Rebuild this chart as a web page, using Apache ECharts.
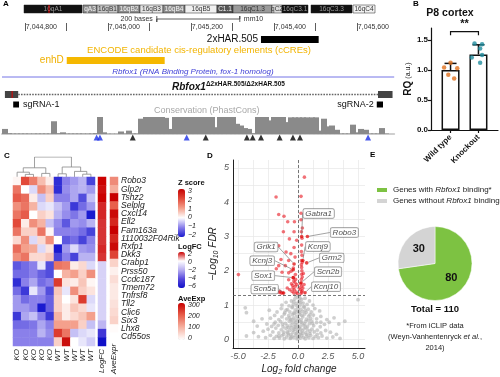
<!DOCTYPE html>
<html>
<head>
<meta charset="utf-8">
<script src="https://cdn.jsdelivr.net/npm/echarts@6/dist/echarts.min.js"></script>
<style>
html,body{margin:0;padding:0;background:#fff}
#main{width:500px;height:377px}
</style>
</head>
<body>
<div id="main"></div>
<script>
var FONT = '"Liberation Sans", Arial, sans-serif';

// ---- A: genome browser ----
var ideoBands = [
  ['16qA1', 0, 58], ['qA3', 59, 73], ['16qB1', 73, 94], ['16qB2', 94, 116],
  ['16qB3', 116, 139], ['16qB4', 139, 161], ['16qB5', 161, 193], ['C1.1', 193, 209],
  ['16qC1.3', 209, 248], ['qC2', 248, 258], ['16qC3.1', 258, 284], ['16qC3.3', 287, 328],
  ['16qC4', 329, 351]
];
var ideoStain = ['#111', '#8c8c8c', '#c6c6c6', '#8c8c8c', '#e4e4e4', '#8c8c8c', '#f0f0f0', '#555',
  '#9a9a9a', '#dcdcdc', '#111', '#111', '#f2f2f2'];
var ideoMarker = 25;
var harRegion = [7045369, 7045508];
var enhRegion = [7044901, 7045137];
var exonLeft = [7044752, 7044784];
var exonRight = [7045651, 7045686];
var cutSite = 7044769;
var sgRNA1 = [7044772, 7044786];
var sgRNA2 = [7045648, 7045663];
var scaleBar = [7045118, 7045318];
var coordLabels = [7044800, 7045000, 7045200, 7045400, 7045600];
var coordTicks = [7044800, 7044900, 7045000, 7045100, 7045200, 7045300, 7045400, 7045500, 7045600];
var consStart = 7044745;
var consStep = 10;
var consValues = [
  0.3, 0.05, 0.03, 0.03, 0.03, 0.03, 0.03, 0.03, 0.03, 0.03, 0.03, 0.03, 0.75, 0.05, 0.1, 0.03,
  0.03, 0.03, 0.03, 0.03, 0.03, 0.03, 0.05, 1.0, 0.1, 0.02, 0.02, 0.02, 0.15, 0.03, 0.2, 0.03,
  0.03, 0.9, 1.0, 1.0, 1.0, 1.0, 1.0, 0.95, 0.3, 1.0, 1.0, 1.0, 1.0, 1.0, 1.0, 1.0,
  1.0, 1.0, 1.0, 0.4, 1.0, 1.0, 1.0, 1.0, 0.6, 0.5, 0.35, 0.3, 0.05, 1.0, 1.0, 1.0,
  0.8, 1.0, 1.0, 1.0, 0.7, 0.98, 0.98, 0.98, 0.98, 0.98, 0.98, 0.98, 0.2, 0.9, 0.45, 0.5,
  0.25, 0.03, 0.03, 0.03, 0.55, 0.1, 0.3, 0.25, 0.03, 0.03, 0.03, 0.35, 0.03
];
var triBlue = [7044973, 7044981, 7045190, 7045627];
var triBlack = [7045060, 7045236, 7045335, 7045349, 7045369, 7045414, 7045446, 7045463];

// ---- B: qPCR ----
var bGroups = ['Wild type', 'Knockout'];
var bMeans = [1.0, 1.26];
var bSD = [0.11, 0.16];
var wtPoints = [1.12, 1.03, 1.04, 0.92, 0.86];
var koPoints = [1.44, 1.43, 1.36, 1.25, 1.21, 1.12];
var wtJitter = [0, 0.24, -0.23, -0.08, 0.13];
var koJitter = [-0.14, 0.13, 0.06, 0.13, -0.24, 0.06];

// ---- C: heatmap ----
var zGenes = ['Robo3', 'Glp2r', 'Tshz2', 'Selplg', 'Cxcl14', 'Ell2', 'Fam163a', '1110032F04Rik', 'Rxfp1', 'Dkk3',
  'Crabp1', 'Prss50', 'Ccdc187', 'Tmem72', 'Tnfrsf8', 'Tll2', 'Clic6', 'Six3', 'Lhx8', 'Cd55os'];
var zSamples = ['KO1', 'KO2', 'KO3', 'KO4', 'KO5', 'WT1', 'WT2', 'WT3', 'WT4', 'WT5'];
var zScores = [
  [0.1, 2.0, 1.4, 0.7, 0.2, -1.8, -1.0, -0.8, -0.6, -1.6],
  [1.5, 0.0, -0.3, 1.2, 0.7, -1.8, -0.9, -0.7, -0.6, -0.8],
  [1.8, 1.6, 0.2, -0.5, 0.5, -1.0, -1.0, -0.7, -1.5, -0.5],
  [1.2, 1.5, 0.8, -0.3, -0.2, -0.5, -0.8, -1.7, -1.2, -0.8],
  [1.5, 1.8, 0.0, 0.5, 0.3, -0.6, -0.9, -1.1, -0.8, -2.2],
  [2.0, 0.2, 1.2, 0.8, -0.5, -0.9, -1.4, -0.8, -0.9, -0.6],
  [1.5, 0.5, 0.5, 1.5, 0.1, -1.0, -1.0, -1.0, -1.2, -1.6],
  [0.4, 1.2, -0.3, 0.4, 1.2, 0.0, -1.4, -1.2, -1.6, -1.0],
  [1.6, 1.0, 0.9, -0.3, 0.3, -2.0, -0.8, -0.3, -0.8, -0.9],
  [1.2, 1.5, 0.4, 0.4, 0.6, -1.6, -1.0, -1.6, -0.6, -0.6],
  [-1.4, -1.2, -1.0, -0.2, -1.5, 1.5, 1.4, 0.2, 0.4, -0.3],
  [-1.2, -1.2, -1.0, -1.3, -1.5, 0.0, 0.8, 1.0, 0.5, 1.2],
  [-1.8, -1.0, -0.7, -1.2, -1.0, 2.2, 0.3, 0.2, 0.6, 0.1],
  [-1.2, -1.7, -0.2, -0.8, -1.5, 0.6, -0.2, 1.2, 0.5, 0.3],
  [-0.8, -1.2, -1.0, -1.0, -1.3, 0.5, 0.0, 0.3, 2.2, -0.3],
  [-0.8, -0.8, -1.0, -2.2, -1.3, 0.5, 0.2, 0.6, 0.4, -0.2],
  [-1.7, -0.7, -0.5, -1.0, -1.7, 0.8, 0.2, 0.4, 0.6, 1.0],
  [-1.2, -1.2, -1.1, -0.7, -1.0, 1.0, 1.0, 1.0, 0.5, -0.5],
  [-1.0, -1.0, -1.0, -0.6, -0.9, 2.2, 1.5, -0.5, -0.3, -0.2],
  [-1.0, -1.0, -1.0, -1.0, -1.0, 0.5, 2.8, 0.0, -0.2, -0.4]
];
var logFC = [2.2, 1.9, 2.0, 1.7, 1.7, 1.6, 1.6, 1.6, 1.7, 1.6, -1.1, -1.1, -1.1, -1.1, -1.1, -1.1, -1.1, -1.8, -4.6, -6.0];
var aveExpr = [150, 110, 300, 200, 290, 260, 300, 260, 290, 230, 60, 20, 45, 30, 30, 40, 50, 60, 5, 0];
var sampleTree = {h: 10, c: [
  {h: 4.6, c: [{h: 2.4, c: [0, {h: 1.3, c: [1, 2]}]}, {h: 1.8, c: [3, 4]}]},
  {h: 5.0, c: [{h: 1.6, c: [5, 6]}, {h: 2.8, c: [7, {h: 1.4, c: [8, 9]}]}]}
]};
var zTicks = ['3', '2', '1', '0', '\u22121', '\u22122'];
var fcTicks = ['2', '0', '\u22122', '\u22124', '\u22126'];
var aeTicks = ['300', '200', '100', '0'];

// ---- D: volcano ----
var redPts = [
  [0.53, 4.73], [-1.83, 4.15], [0.25, 4.17], [-1.61, 3.64], [-1.17, 3.59], [0.25, 3.68], [-0.86, 3.43],
  [-0.3, 3.43], [0.25, 3.49], [0.36, 3.25], [-1.22, 3.14], [-0.33, 3.14], [0.28, 3.14], [0.33, 2.95],
  [-0.72, 2.93], [-0.11, 2.89], [-1.61, 2.73], [-0.33, 2.68], [0.28, 2.56], [0.33, 2.45], [0.3, 2.75],
  [-1.42, 2.33], [-0.78, 2.3], [0.28, 2.3], [0.36, 2.25], [0.28, 2.18], [-1.61, 2.15], [-1.06, 2.15],
  [-1.81, 2.06], [-0.39, 2.08], [-0.58, 1.99], [-1.33, 1.96], [-0.78, 1.94], [-0.22, 1.89], [0.44, 1.92],
  [-0.4, 1.8], [-0.2, 1.75], [-0.35, 1.7], [-0.78, 1.74], [-0.55, 1.62], [-0.45, 1.57], [-0.22, 1.55],
  [-0.1, 1.6], [0.5, 1.6], [-1.5, 1.4], [-1.4, 1.35], [-1.55, 1.37], [-1.3, 1.36], [-0.3, 1.45],
  [-0.15, 1.38], [-0.35, 1.35], [0.2, 1.45], [0.3, 1.38], [0.35, 1.42], [0.25, 1.34], [0.4, 1.5],
  [-0.05, 1.34], [-0.5, 1.4], [0.3, 1.9], [0.32, 2.0], [0.3, 2.1], [-0.25, 2.4], [-0.9, 1.5],
  [-0.7, 1.45], [0.1, 1.5], [-4.97, 1.89], [-0.6, 2.5], [-1.0, 2.55], [0.3, 1.55], [0.28, 1.75],
  [0.35, 1.82], [-0.25, 1.65], [-0.42, 1.5], [0.22, 1.62]
];
var grayPts = [
  [-4.3, 0.1], [-3.3, 0.08], [-2.7, 0.05], [-2.3, 0.12], [-2.0, 0.03], [-1.8, 0.09], [-1.55, 0.04], [-1.35, 0.11],
  [-1.15, 0.02], [-0.95, 0.07], [-0.8, 0.13], [-0.65, 0.03], [-0.5, 0.09], [-0.35, 0.05], [-0.2, 0.12], [-0.08, 0.02],
  [0.05, 0.08], [0.18, 0.04], [0.3, 0.11], [0.45, 0.06], [0.6, 0.02], [0.75, 0.1], [0.9, 0.05], [1.05, 0.12],
  [1.25, 0.03], [1.45, 0.08], [1.7, 0.05], [2.0, 0.1], [2.4, 0.04], [2.9, 0.07], [3.5, 0.03],
  [-3.7, 0.2], [-2.9, 0.24], [-2.5, 0.3], [-2.1, 0.22], [-1.85, 0.33], [-1.6, 0.19], [-1.4, 0.28], [-1.2, 0.21],
  [-1.0, 0.32], [-0.85, 0.18], [-0.7, 0.26], [-0.55, 0.34], [-0.42, 0.2], [-0.28, 0.29], [-0.15, 0.17], [-0.02, 0.27],
  [0.1, 0.33], [0.22, 0.19], [0.35, 0.25], [0.5, 0.31], [0.65, 0.2], [0.8, 0.28], [0.98, 0.17], [1.15, 0.3],
  [1.35, 0.22], [1.6, 0.27], [1.9, 0.19], [2.3, 0.26], [2.7, 0.21], [3.2, 0.15],
  [-3.4, 0.39], [-2.6, 0.45], [-2.2, 0.38], [-1.9, 0.5], [-1.65, 0.41], [-1.45, 0.52], [-1.25, 0.37], [-1.05, 0.47],
  [-0.9, 0.4], [-0.72, 0.53], [-0.58, 0.42], [-0.45, 0.49], [-0.3, 0.37], [-0.18, 0.5], [-0.05, 0.43], [0.08, 0.54],
  [0.2, 0.39], [0.33, 0.48], [0.47, 0.41], [0.62, 0.52], [0.78, 0.38], [0.95, 0.46], [1.12, 0.53], [1.3, 0.4],
  [1.55, 0.49], [1.85, 0.37], [2.2, 0.44], [2.6, 0.5], [3.4, 0.45], [3.9, 0.53],
  [-3.7, 0.53], [-3.0, 0.6], [-2.3, 0.62], [-1.95, 0.7], [-1.6, 0.58], [-1.35, 0.66], [-1.15, 0.74], [-0.95, 0.6],
  [-0.78, 0.69], [-0.62, 0.57], [-0.48, 0.72], [-0.35, 0.63], [-0.22, 0.56], [-0.1, 0.68], [0.02, 0.61], [0.14, 0.73],
  [0.26, 0.58], [0.4, 0.66], [0.55, 0.74], [0.7, 0.59], [0.88, 0.68], [1.05, 0.62], [1.28, 0.71], [1.55, 0.6],
  [1.9, 0.67], [2.4, 0.58], [3.0, 0.63],
  [-4.4, 0.92], [-4.3, 0.78], [-2.4, 0.85], [-1.75, 0.8], [-1.4, 0.9], [-1.1, 0.78], [-0.88, 0.87], [-0.68, 0.8],
  [-0.5, 0.93], [-0.36, 0.77], [-0.24, 0.86], [-0.12, 0.8], [0.0, 0.91], [0.12, 0.78], [0.24, 0.88], [0.38, 0.81],
  [0.52, 0.94], [0.68, 0.79], [0.85, 0.88], [1.1, 0.8], [1.4, 0.9], [1.8, 0.83],
  [-1.35, 1.0], [-1.0, 1.08], [-0.75, 0.98], [-0.55, 1.12], [-0.4, 1.02], [-0.27, 1.18], [-0.14, 1.05], [-0.03, 1.22],
  [0.08, 1.1], [0.18, 1.0], [0.3, 1.17], [0.42, 1.06], [0.58, 1.2], [0.75, 1.02], [0.95, 1.12], [1.25, 1.0],
  [-0.2, 1.28], [0.1, 1.27], [5.0, 1.16],
  [-1.2, 0.15], [-0.9, 0.22], [-0.6, 0.14], [-0.4, 0.27], [-0.1, 0.2], [0.15, 0.14], [0.4, 0.18], [0.7, 0.14],
  [1.0, 0.24], [-1.3, 0.45], [-0.8, 0.35], [-0.5, 0.58], [-0.25, 0.44], [0.0, 0.36], [0.25, 0.5], [0.55, 0.45],
  [0.85, 0.56], [1.2, 0.47], [-1.0, 0.85], [-0.7, 0.63], [-0.3, 0.75], [0.05, 0.82], [0.32, 0.7], [0.6, 0.85],
  [1.0, 0.72], [-0.45, 0.95], [-0.1, 0.98], [0.22, 1.08], [0.48, 0.96], [-0.6, 0.05], [-0.2, 0.35], [0.2, 0.3],
  [0.65, 0.35], [-1.6, 0.1], [1.6, 0.15], [-2.0, 0.45], [1.9, 0.5], [-0.35, 1.1], [0.15, 1.2], [0.0, 0.05]
];
var volcanoGenes = ['Gabra1', 'Robo3', 'Kcnj9', 'Grm2', 'Scn2b', 'Kcnj10', 'Grik1', 'Kcnj3', 'Sox1', 'Scn5a'];
var volcanoGenePts = [[0.30, 3.00], [0.78, 3.00], [0.40, 2.30], [0.72, 2.23], [0.25, 1.65], [0.58, 1.36],
  [-0.33, 2.20], [-0.40, 2.03], [-0.40, 1.80], [-1.20, 1.35]];
var fdrCut = 1.3;

// ---- E: pie ----
var pieNames = ['Genes with Rbfox1 binding*', 'Genes without Rbfox1 binding'];
var pieValues = [80, 30];

// label shifts for volcano labels (px)
var volcanoShift = [[17, -23], [37, -4], [15, -14], [25, -5], [27, -11], [21, -6], [-28, -17], [-31, -9], [-30, -2], [-19, -4]];

var chart = echarts.init(document.getElementById('main'));

function txt(x, y, text, font, fill, align, extra) {
  var st = {text: text, font: font || ('8px ' + FONT), fill: fill || '#222',
    align: align || 'left', textAlign: align || 'left', verticalAlign: 'middle', textVerticalAlign: 'middle'};
  if (extra) for (var k in extra) st[k] = extra[k];
  return {type: 'text', x: x, y: y, silent: true, style: st};
}

// track layout (pixel rows in the track grid)
var trackRows = {scale: 19, har: 39.5, enh: 60.5, ref: 77, gene: 94.5, sg: 104.5};
var trackFeatures = [
  {kind: 'scale', s: scaleBar[0], e: scaleBar[1], row: 'scale'},
  {kind: 'box', s: harRegion[0], e: harRegion[1], row: 'har', h: 7, color: '#000', label: '2xHAR.505', side: 'left', font: '10px ' + FONT, tc: '#111'},
  {kind: 'box', s: enhRegion[0], e: enhRegion[1], row: 'enh', h: 7, color: '#f5b800', label: 'enhD', side: 'left', font: '10px ' + FONT, tc: '#f0b000'},
  {kind: 'line', s: 7044745, e: 7045690, row: 'ref', color: '#7474e6', w: 1},
  {kind: 'line', s: exonLeft[1], e: exonRight[0], row: 'gene', color: '#666', w: 1.4, dash: [1.6, 1.2]},
  {kind: 'box', s: exonLeft[0], e: exonLeft[1], row: 'gene', h: 7, color: '#444'},
  {kind: 'box', s: exonRight[0], e: exonRight[1], row: 'gene', h: 7, color: '#444'},
  {kind: 'box', s: cutSite - 0.8, e: cutSite + 0.8, row: 'gene', h: 7, color: '#e00000'},
  {kind: 'box', s: sgRNA1[0], e: sgRNA1[1], row: 'sg', h: 6, color: '#000', label: 'sgRNA-1', side: 'right', font: '9px ' + FONT, tc: '#111'},
  {kind: 'box', s: sgRNA2[0], e: sgRNA2[1], row: 'sg', h: 6, color: '#000', label: 'sgRNA-2', side: 'left', font: '9px ' + FONT, tc: '#111'}
];

function renderTrack(params, api) {
  var f = trackFeatures[params.dataIndex];
  var y = trackRows[f.row];
  var a = api.coord([f.s, y]);
  var b = api.coord([f.e, y]);
  var ch = [];
  if (f.kind === 'box') {
    ch.push({type: 'rect', shape: {x: a[0], y: a[1] - f.h / 2, width: Math.max(1, b[0] - a[0]), height: f.h}, style: {fill: f.color}});
  } else if (f.kind === 'line') {
    ch.push({type: 'line', shape: {x1: a[0], y1: a[1], x2: b[0], y2: b[1]}, style: {stroke: f.color, lineWidth: f.w, lineDash: f.dash || null}});
  } else if (f.kind === 'scale') {
    ch.push({type: 'polyline', shape: {points: [[a[0], a[1] - 3], [a[0], a[1] + 3], [a[0], a[1]], [b[0], b[1]], [b[0], b[1] - 3], [b[0], b[1] + 3]]}, style: {stroke: '#333', lineWidth: 0.8, fill: null}});
    ch.push({type: 'text', style: {text: (f.e - f.s) + ' bases', x: a[0] - 4, y: a[1], align: 'right', verticalAlign: 'middle', textAlign: 'right', textVerticalAlign: 'middle', font: '7px ' + FONT, fill: '#333'}});
    ch.push({type: 'text', style: {text: 'mm10', x: b[0] + 4, y: b[1], align: 'left', verticalAlign: 'middle', textAlign: 'left', textVerticalAlign: 'middle', font: '7px ' + FONT, fill: '#333'}});
  }
  if (f.label) {
    var left = f.side === 'left';
    ch.push({type: 'text', style: {text: f.label, x: left ? a[0] - 3 : b[0] + 4, y: a[1], align: left ? 'right' : 'left', textAlign: left ? 'right' : 'left',
      verticalAlign: 'middle', textVerticalAlign: 'middle', font: f.font, fill: f.tc}});
  }
  return {type: 'group', children: ch};
}

function renderBand(params, api) {
  var b = ideoBands[params.dataIndex];
  var fill = ideoStain[params.dataIndex];
  var p0 = api.coord([b[1], 0]);
  var p1 = api.coord([b[2], 1]);
  var dark = ['#111', '#555', '#8c8c8c'].indexOf(fill) >= 0;
  var tc = fill === '#111' ? '#9a9a9a' : (dark ? '#f4f4f4' : '#333');
  return {type: 'group', children: [
    {type: 'rect', shape: {x: p0[0], y: p1[1], width: p1[0] - p0[0], height: p0[1] - p1[1]}, style: {fill: fill, stroke: '#222', lineWidth: 0.5}},
    {type: 'text', style: {text: b[0], x: (p0[0] + p1[0]) / 2, y: (p0[1] + p1[1]) / 2 + 0.5, align: 'center', textAlign: 'center',
      verticalAlign: 'middle', textVerticalAlign: 'middle', font: '6.5px ' + FONT, fill: tc}}
  ]};
}

function renderMarker(params, api) {
  var p0 = api.coord([api.value(0), 0]);
  var p1 = api.coord([api.value(0), 1]);
  return {type: 'line', shape: {x1: p0[0], y1: p0[1], x2: p1[0], y2: p1[1]}, style: {stroke: '#e00000', lineWidth: 1}};
}

// conservation bins: [binStart, binEnd, score]
function renderCons(params, api) {
  var p0 = api.coord([api.value(0), 0]);
  var p1 = api.coord([api.value(1), api.value(2)]);
  return {type: 'rect', shape: {x: Math.floor(p0[0]), y: p1[1], width: Math.ceil(p1[0] - p0[0]) + 1, height: p0[1] - p1[1]},
    style: {fill: '#8a8a8a', stroke: null}};
}

function renderErr(params, api) {
  var x = api.value(0), m = api.value(1), sd = api.value(2);
  var p0 = api.coord([x, m]);
  var p1 = api.coord([x, m + sd]);
  return {type: 'group', children: [
    {type: 'line', shape: {x1: p0[0], y1: p0[1], x2: p1[0], y2: p1[1]}, style: {stroke: '#111', lineWidth: 1.5}},
    {type: 'line', shape: {x1: p1[0] - 6, y1: p1[1], x2: p1[0] + 6, y2: p1[1]}, style: {stroke: '#111', lineWidth: 1.5}}
  ]};
}

function renderBracket(params, api) {
  var a = api.coord([1, 1.58]), b = api.coord([1, 1.64]);
  var c = api.coord([2, 1.64]), d = api.coord([2, 1.58]);
  var t = api.coord([1.5, 1.76]);
  return {type: 'group', children: [
    {type: 'polyline', shape: {points: [a, b, c, d]}, style: {stroke: '#111', lineWidth: 1.2, fill: null}},
    {type: 'text', style: {text: '**', x: t[0], y: t[1], align: 'center', textAlign: 'center', verticalAlign: 'middle', textVerticalAlign: 'middle',
      font: 'bold 11px ' + FONT, fill: '#111'}}
  ]};
}

// dendrogram segments
var dendroLines = [];
function walk(node) {
  if (typeof node === 'number') return {x: node + 0.5, h: 0};
  var L = walk(node.c[0]), R = walk(node.c[1]);
  dendroLines.push({coords: [[L.x, L.h], [L.x, node.h], [R.x, node.h], [R.x, R.h]]});
  return {x: (L.x + R.x) / 2, h: node.h};
}
walk(sampleTree);

var heatData = [];
zScores.forEach(function (row, r) { row.forEach(function (v, c) { heatData.push([c, r, v]); }); });
var fcData = logFC.map(function (v, r) { return [0, r, v]; });
var aeData = aveExpr.map(function (v, r) { return [0, r, v]; });

var hidden = {show: false};
var GEN_MIN = 7044745, GEN_MAX = 7045690;

var grids = [
  {left: 24, top: 5, width: 351, height: 8},          // 0 ideogram
  {left: 2, top: 0, width: 392.2, height: 140},        // 1 tracks
  {left: 2, top: 23, width: 392.2, height: 8},         // 2 coordinates
  {left: 2, top: 117, width: 392.2, height: 23},       // 3 conservation
  {left: 431, top: 28, width: 67, height: 102},        // 4 B
  {left: 13, top: 157, width: 82, height: 20},         // 5 dendrogram
  {left: 13, top: 177, width: 82, height: 169},        // 6 heatmap
  {left: 98, top: 177, width: 8, height: 169},         // 7 logFC
  {left: 110, top: 177, width: 8, height: 169},        // 8 aveExpr
  {left: 233, top: 160, width: 132, height: 188.5}     // 9 volcano
];

var xAxes = [
  {gridIndex: 0, type: 'value', min: 0, max: 351, show: false},
  {gridIndex: 1, type: 'value', min: GEN_MIN, max: GEN_MAX, show: false},
  {gridIndex: 2, type: 'value', min: GEN_MIN, max: GEN_MAX, position: 'bottom',
    axisLine: hidden, splitLine: hidden,
    axisTick: {show: true, inside: true, length: 8, customValues: coordTicks, lineStyle: {color: '#333', width: 0.8}},
    axisLabel: {show: true, inside: true, margin: 4, customValues: coordLabels, align: 'left', verticalAlign: 'middle', padding: [0, 0, 0, 1],
      fontSize: 7, color: '#333', fontFamily: FONT, formatter: function (v) { return Number(v).toLocaleString('en-US'); }}},
  {gridIndex: 3, type: 'value', min: GEN_MIN, max: GEN_MAX, axisLine: {show: true, onZero: true, lineStyle: {color: '#cfcfcf', width: 2}},
    axisTick: hidden, axisLabel: hidden, splitLine: hidden},
  {gridIndex: 4, type: 'value', min: 0.3, max: 2.7, splitLine: hidden,
    axisLine: {lineStyle: {color: '#111', width: 1.2}},
    axisTick: {customValues: [1, 2], length: 3, lineStyle: {color: '#111', width: 1.2}},
    axisLabel: {customValues: [1, 2], rotate: 45, margin: 6, fontSize: 8, fontWeight: 'bold', color: '#111', fontFamily: FONT,
      formatter: function (v) { return bGroups[Math.round(v) - 1]; }}},
  {gridIndex: 5, type: 'value', min: 0, max: 10, show: false},
  {gridIndex: 6, type: 'category', data: zSamples, axisLine: hidden, axisTick: hidden, splitLine: hidden,
    axisLabel: {rotate: 90, margin: 3, fontStyle: 'italic', fontSize: 8, color: '#222', fontFamily: FONT, interval: 0,
      formatter: function (v) { return v.replace(/\d/, ''); }}},
  {gridIndex: 7, type: 'category', data: ['LogFC'], axisLine: hidden, axisTick: hidden,
    axisLabel: {rotate: 90, margin: 3, fontStyle: 'italic', fontSize: 8, color: '#222', fontFamily: FONT}},
  {gridIndex: 8, type: 'category', data: ['AveExpr'], axisLine: hidden, axisTick: hidden,
    axisLabel: {rotate: 90, margin: 3, fontStyle: 'italic', fontSize: 8, color: '#222', fontFamily: FONT}},
  {gridIndex: 9, type: 'value', min: -5.42, max: 5.58,
    name: '{a|Log}{s|2}{a| fold change}', nameLocation: 'middle', nameGap: 15,
    nameTextStyle: {rich: {a: {fontStyle: 'italic', fontSize: 10, color: '#222', fontFamily: FONT},
      s: {fontStyle: 'italic', fontSize: 7, color: '#222', fontFamily: FONT, padding: [6, 0, 0, 0]}}},
    axisLine: {onZero: false, lineStyle: {color: '#222', width: 1}},
    axisTick: {show: false, customValues: [-5, -3.75, -2.5, -1.25, 0, 1.25, 2.5, 3.75, 5]},
    axisLabel: {customValues: [-5, -2.5, 0, 2.5, 5], margin: 4, fontStyle: 'italic', fontSize: 9, color: '#555', fontFamily: FONT,
      formatter: function (v) { return Number(v).toFixed(1); }},
    splitLine: {show: true, lineStyle: {color: '#e6e6e6', width: 0.7}}}
];

var yAxes = [
  {gridIndex: 0, type: 'value', min: 0, max: 1, show: false},
  {gridIndex: 1, type: 'value', min: 0, max: 140, inverse: true, show: false},
  {gridIndex: 2, type: 'value', min: 0, max: 1, show: false},
  {gridIndex: 3, type: 'value', min: -0.35, max: 1, show: false},
  {gridIndex: 4, type: 'value', min: 0, max: 1.7, interval: 0.5, splitLine: hidden,
    name: '{a|RQ}{b| (a.u.)}', nameLocation: 'middle', nameGap: 15,
    nameTextStyle: {rich: {a: {fontSize: 10, fontWeight: 'bold', color: '#111', fontFamily: FONT}, b: {fontSize: 7, color: '#111', fontFamily: FONT}}},
    axisLine: {show: true, lineStyle: {color: '#111', width: 1.2}},
    axisTick: {show: true, length: 3, lineStyle: {color: '#111', width: 1.2}},
    axisLabel: {showMaxLabel: false, margin: 3, fontSize: 8, fontWeight: 'bold', color: '#111', fontFamily: FONT,
      formatter: function (v) { return v.toFixed(1); }}},
  {gridIndex: 5, type: 'value', min: 0, max: 10, show: false},
  {gridIndex: 6, type: 'category', data: zGenes, inverse: true, show: false},
  {gridIndex: 7, type: 'category', data: zGenes, inverse: true, show: false},
  {gridIndex: 8, type: 'category', data: zGenes, inverse: true, position: 'right', axisLine: hidden, axisTick: hidden,
    axisLabel: {margin: 3, interval: 0, fontStyle: 'italic', fontSize: 8.5, color: '#222', fontFamily: FONT}},
  {gridIndex: 9, type: 'value', min: -0.25, max: 5.23,
    name: '{a|\u2212Log}{s|10}{a| FDR}', nameLocation: 'middle', nameGap: 13,
    nameTextStyle: {rich: {a: {fontStyle: 'italic', fontSize: 10, color: '#222', fontFamily: FONT},
      s: {fontStyle: 'italic', fontSize: 7, color: '#222', fontFamily: FONT, padding: [6, 0, 0, 0]}}},
    axisLine: {show: true, onZero: false, lineStyle: {color: '#222', width: 1}},
    axisTick: {show: false, customValues: [0, 0.5, 1, 1.5, 2, 2.5, 3, 3.5, 4, 4.5, 5]},
    axisLabel: {customValues: [0, 1, 2, 3, 4, 5], margin: 4, fontStyle: 'italic', fontSize: 9, color: '#555', fontFamily: FONT},
    splitLine: {show: true, lineStyle: {color: '#e6e6e6', width: 0.7}}}
];

var series = [];
// A
series.push({type: 'custom', xAxisIndex: 0, yAxisIndex: 0, renderItem: renderBand, silent: true,
  data: ideoBands.map(function (b) { return [b[1], b[2]]; })});
series.push({type: 'custom', xAxisIndex: 0, yAxisIndex: 0, renderItem: renderMarker, silent: true, data: [[ideoMarker]]});
series.push({type: 'custom', xAxisIndex: 1, yAxisIndex: 1, renderItem: renderTrack, silent: true, clip: false,
  data: trackFeatures.map(function (f) { return [f.s, f.e]; })});
series.push({type: 'custom', xAxisIndex: 3, yAxisIndex: 3, renderItem: renderCons, silent: true,
  encode: {x: [0, 1], y: 2},
  data: consValues.map(function (v, i) { return [consStart + i * consStep, consStart + (i + 1) * consStep, v]; })});
series.push({type: 'scatter', xAxisIndex: 3, yAxisIndex: 3, symbol: 'triangle', symbolSize: [6, 6], silent: true,
  itemStyle: {color: '#1a2ee6'}, data: triBlue.map(function (p) { return [p, -0.2]; })});
series.push({type: 'scatter', xAxisIndex: 3, yAxisIndex: 3, symbol: 'triangle', symbolSize: [6, 6], silent: true,
  itemStyle: {color: '#000'}, data: triBlack.map(function (p) { return [p, -0.2]; })});
// B
series.push({type: 'bar', xAxisIndex: 4, yAxisIndex: 4, barWidth: 18, silent: true,
  itemStyle: {color: '#fff', borderColor: '#111', borderWidth: 1.5},
  data: bMeans.map(function (m, i) { return [i + 1, m]; })});
series.push({type: 'custom', xAxisIndex: 4, yAxisIndex: 4, renderItem: renderErr, silent: true, z: 3,
  data: bMeans.map(function (m, i) { return [i + 1, m, bSD[i]]; })});
series.push({type: 'scatter', xAxisIndex: 4, yAxisIndex: 4, symbolSize: 4.5, silent: true, z: 4, itemStyle: {color: '#e0701e'},
  data: wtPoints.map(function (v, i) { return [1 + wtJitter[i], v]; })});
series.push({type: 'scatter', xAxisIndex: 4, yAxisIndex: 4, symbolSize: 4.5, silent: true, z: 4, itemStyle: {color: '#1f8c9e'},
  data: koPoints.map(function (v, i) { return [2 + koJitter[i], v]; })});
series.push({type: 'custom', xAxisIndex: 4, yAxisIndex: 4, renderItem: renderBracket, silent: true, clip: false, data: [[1, 2]]});
// C
series.push({type: 'lines', coordinateSystem: 'cartesian2d', xAxisIndex: 5, yAxisIndex: 5, polyline: true, silent: true,
  lineStyle: {color: '#888', width: 0.8, opacity: 1}, data: dendroLines});
var heatIdx = series.length;
series.push({type: 'heatmap', xAxisIndex: 6, yAxisIndex: 6, data: heatData, silent: true});
var fcIdx = series.length;
series.push({type: 'heatmap', xAxisIndex: 7, yAxisIndex: 7, data: fcData, silent: true});
var aeIdx = series.length;
series.push({type: 'heatmap', xAxisIndex: 8, yAxisIndex: 8, data: aeData, silent: true});
// D
series.push({type: 'scatter', xAxisIndex: 9, yAxisIndex: 9, symbolSize: 3.8, silent: true,
  itemStyle: {color: 'rgba(180,180,180,0.8)'}, data: grayPts,
  markLine: {silent: true, symbol: 'none', label: {show: false}, lineStyle: {color: '#555', type: [3, 2], width: 0.8},
    data: [{xAxis: 0}, {yAxis: fdrCut}]}});
series.push({type: 'scatter', xAxisIndex: 9, yAxisIndex: 9, symbolSize: 3.6, silent: true,
  itemStyle: {color: 'rgba(232,20,30,0.75)'}, data: redPts});
series.push({type: 'scatter', xAxisIndex: 9, yAxisIndex: 9, symbolSize: 3.6, silent: true, z: 5,
  itemStyle: {color: 'rgba(220,0,0,0.9)'},
  data: volcanoGenePts.map(function (p, i) { return {name: volcanoGenes[i], value: p}; }),
  label: {show: true, position: 'inside', formatter: '{b}', fontStyle: 'italic', fontSize: 8, color: '#222', fontFamily: FONT,
    backgroundColor: '#fff', borderColor: '#777', borderWidth: 0.7, borderRadius: 1.5, padding: [1, 2, 0, 2]},
  labelLine: {show: true, lineStyle: {color: '#666', width: 0.6}},
  labelLayout: function (p) { var o = volcanoShift[p.dataIndex]; return {dx: o[0], dy: o[1]}; }});
// E
series.push({type: 'pie', center: [435, 263.5], radius: 37, startAngle: 90, clockwise: true, silent: true,
  label: {show: true, position: 'inside', formatter: '{c}', fontSize: 11, fontWeight: 'bold', color: '#111', fontFamily: FONT},
  labelLine: {show: false}, itemStyle: {borderColor: '#fff', borderWidth: 0.5},
  color: ['#7dc242', '#d4d4d4'],
  data: pieNames.map(function (n, i) { return {name: n, value: pieValues[i]}; })});

var visualMaps = [
  {type: 'continuous', seriesIndex: heatIdx, min: -2, max: 3, left: 178, top: 189, itemWidth: 7, itemHeight: 48, padding: 0,
    calculable: false, inRange: {color: ['#1a1ad0', '#8a80ea', '#ffffff', '#f4a08c', '#e24a3a', '#c40000']}},
  {type: 'continuous', seriesIndex: fcIdx, min: -6, max: 2, left: 178, top: 252, itemWidth: 7, itemHeight: 36, padding: 0,
    calculable: false, inRange: {color: ['#1010c8', '#5648dc', '#b6adf0', '#ffffff', '#cc0000']}},
  {type: 'continuous', seriesIndex: aeIdx, min: 0, max: 300, left: 178, top: 303, itemWidth: 7, itemHeight: 37, padding: 0,
    calculable: false, inRange: {color: ['#ffffff', '#f6b4a4', '#e8604c', '#c80000']}}
];

var graphics = [
  txt(3, 4, 'A', 'bold 8px ' + FONT, '#000'),
  txt(413, 4, 'B', 'bold 8px ' + FONT, '#000'),
  txt(4, 156, 'C', 'bold 8px ' + FONT, '#000'),
  txt(207, 156, 'D', 'bold 8px ' + FONT, '#000'),
  txt(370, 155, 'E', 'bold 8px ' + FONT, '#000'),
  txt(199, 50, 'ENCODE candidate cis-regulatory elements (cCREs)', '9.5px ' + FONT, '#f2b400', 'center'),
  txt(193, 71.5, 'Rbfox1 (RNA Binding Protein, fox-1 homolog)', 'italic 8px ' + FONT, '#3f3fd6', 'center'),
  {type: 'text', x: 172, y: 87, silent: true, style: {text: '{b|Rbfox1}{s|\u03942xHAR.505/\u03942xHAR.505}',
    align: 'left', textAlign: 'left', verticalAlign: 'middle', textVerticalAlign: 'middle',
    rich: {b: {font: 'italic bold 10px ' + FONT, fill: '#111', lineHeight: 13},
      s: {font: 'bold 6.5px ' + FONT, fill: '#111', verticalAlign: 'top', lineHeight: 13, padding: [0, 0, 4, 0]}}}},
  txt(154, 111, 'Conservation (PhastCons)', '9px ' + FONT, '#a8a8a8'),
  txt(450, 13, 'P8 cortex', 'bold 10.5px ' + FONT, '#111', 'center'),
  txt(178, 183, 'Z score', 'bold 7.5px ' + FONT, '#111'),
  txt(178, 247, 'LogFC', 'bold 7.5px ' + FONT, '#111'),
  txt(178, 299, 'AveExp', 'bold 7.5px ' + FONT, '#111'),
  txt(435, 309, 'Total = ' + pieValues.reduce(function (a, b) { return a + b; }, 0), 'bold 9.5px ' + FONT, '#111', 'center'),
  txt(435, 326, '*From iCLIP data', '7.5px ' + FONT, '#222', 'center'),
  {type: 'text', x: 435, y: 337, silent: true, style: {text: '(Weyn-Vanhentenryck {i|et al.},',
    font: '7.5px ' + FONT, fill: '#222', align: 'center', textAlign: 'center', verticalAlign: 'middle', textVerticalAlign: 'middle',
    rich: {i: {font: 'italic 7.5px ' + FONT, fill: '#222'}}}},
  txt(435, 348, '2014)', '7.5px ' + FONT, '#222', 'center')
];
function legendTicks(list, x, top, height) {
  list.forEach(function (t, i) {
    graphics.push(txt(x, top + 2 + i * (height - 4) / (list.length - 1), t, 'italic 7px ' + FONT, '#222'));
  });
}
legendTicks(zTicks, 188, 189, 48);
legendTicks(fcTicks, 188, 252, 36);
legendTicks(aeTicks, 188, 303, 37);

chart.setOption({
  animation: false,
  textStyle: {fontFamily: FONT},
  grid: grids,
  xAxis: xAxes,
  yAxis: yAxes,
  visualMap: visualMaps,
  legend: {left: 375, top: 186, orient: 'vertical', itemWidth: 12, itemHeight: 6, itemGap: 3, icon: 'rect', padding: 0,
    selectedMode: false, data: pieNames,
    textStyle: {fontSize: 8, color: '#222', fontFamily: FONT, rich: {i: {fontStyle: 'italic', fontSize: 8, color: '#222', fontFamily: FONT}}},
    formatter: function (n) { return n.replace('Rbfox1', '{i|Rbfox1}'); }},
  series: series,
  graphic: graphics
});
</script>
</body>
</html>
